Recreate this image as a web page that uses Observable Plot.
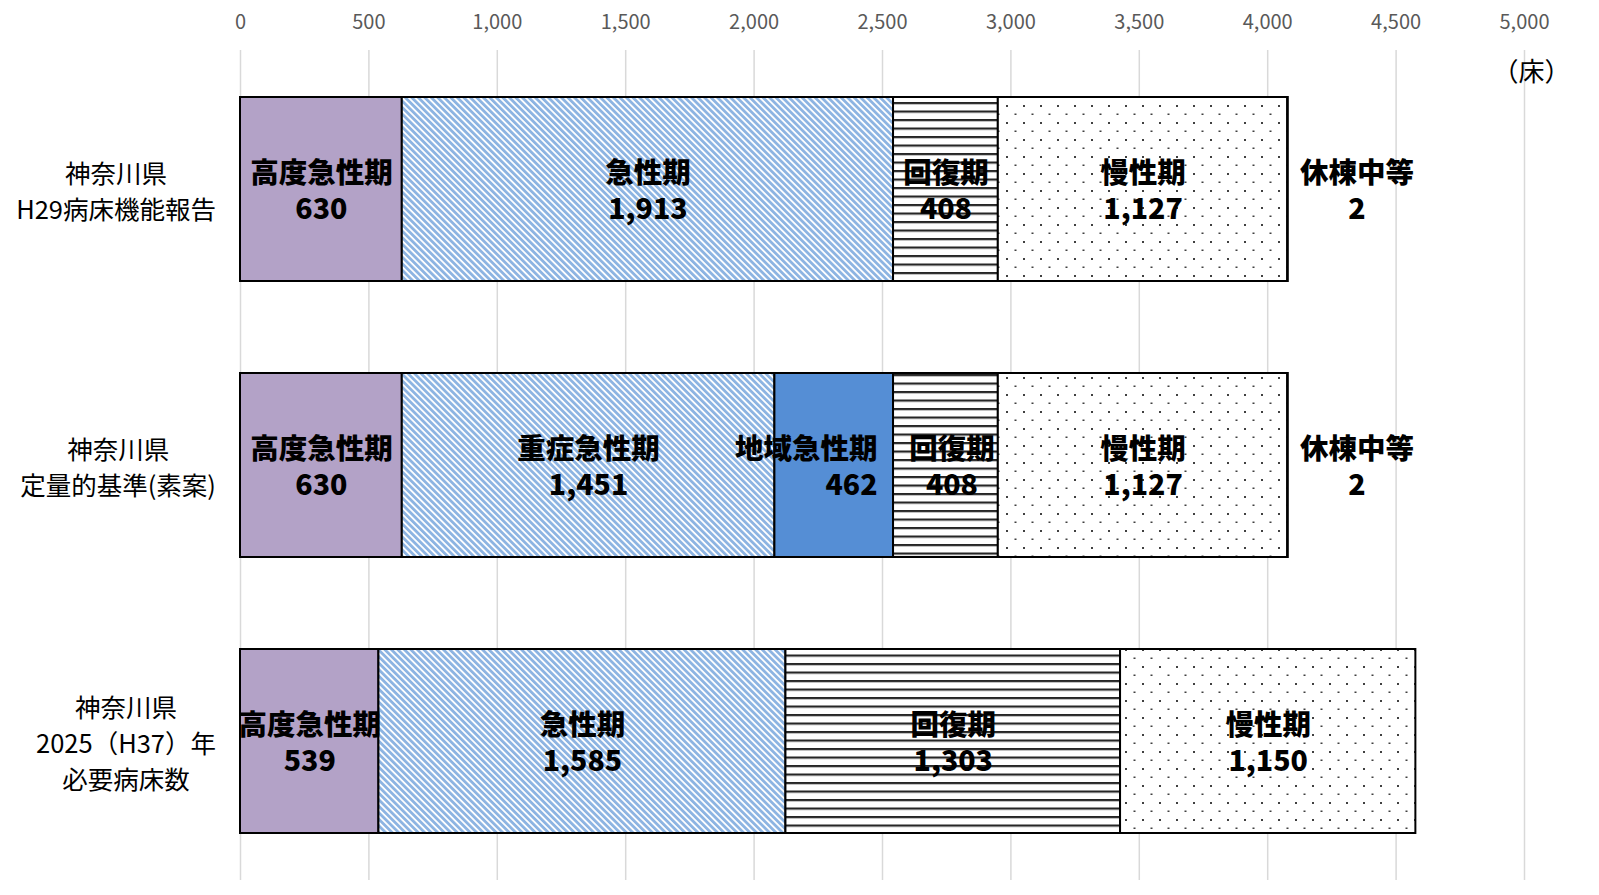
<!DOCTYPE html>
<html>
<head>
<meta charset="utf-8">
<script src="https://cdn.jsdelivr.net/npm/d3@7"></script>
<script src="https://cdn.jsdelivr.net/npm/@observablehq/plot@0.6"></script>
<style>
  html, body { margin: 0; padding: 0; background: #fff; overflow: hidden; }
  #chart { width: 1599px; height: 895px; }
  #chart svg { display: block; max-width: none !important; width: 1599px; height: 895px; }
</style>
</head>
<body>
<div id="chart"></div>
<script>
// ---- data ----
const rows = [
  "神奈川県\nH29病床機能報告",
  "神奈川県\n定量的基準(素案)",
  "神奈川県\n2025（H37）年\n必要病床数"
];
const row1Cats = ["高度急性期", "急性期", "回復期", "慢性期", "休棟中等"];
const row1Vals = [630, 1913, 408, 1127, 2];
const row2Cats = ["高度急性期", "重症急性期", "地域急性期", "回復期", "慢性期", "休棟中等"];
const row2Vals = [630, 1451, 462, 408, 1127, 2];
const row3Cats = ["高度急性期", "急性期", "回復期", "慢性期"];
const row3Vals = [539, 1585, 1303, 1150];
const xTicks = [0, 500, 1000, 1500, 2000, 2500, 3000, 3500, 4000, 4500, 5000];
const unitLabel = "（床）";

const categories = ["高度急性期", "急性期", "重症急性期", "地域急性期", "回復期", "慢性期", "休棟中等"];
const fills = ["#b3a2c7", "url(#pStripe)", "url(#pStripe)", "#558ed5", "url(#pHoriz)", "url(#pDots)", "#ffffff"];

// build table with stacked extents
const table = [];
[[row1Cats, row1Vals], [row2Cats, row2Vals], [row3Cats, row3Vals]].forEach(([cats, vals], i) => {
  let acc = 0;
  cats.forEach((c, j) => {
    table.push({row: rows[i], ri: i, cat: c, value: vals[j], start: acc, end: acc + vals[j]});
    acc += vals[j];
  });
});
const fmt = d3.format(",");
const labelText = d => d.cat + "\n" + fmt(d.value);

const normal = table.filter(d => d.cat !== "地域急性期" && d.cat !== "休棟中等" && !(d.cat === "回復期" && d.ri === 1));
const kaifuku2 = table.filter(d => d.cat === "回復期" && d.ri === 1);
const chiiki = table.filter(d => d.cat === "地域急性期");
const kyuto = table.filter(d => d.cat === "休棟中等");

const labelStyle = {y: "row", text: labelText, fontSize: 28.5, fontWeight: 900, lineHeight: 1.27, fill: "#000"};

const svg = Plot.plot({
  width: 1599,
  height: 895,
  marginLeft: 240,
  marginRight: 75,
  marginTop: 50,
  marginBottom: 15,
  style: {fontFamily: "'Noto Sans CJK JP', 'Noto Sans', sans-serif", background: "#fff"},
  x: {domain: [0, 5000]},
  y: {domain: rows, paddingInner: 0.333, paddingOuter: 0.166},
  color: {domain: categories, range: fills},
  marks: [
    Plot.gridX(xTicks, {stroke: "#d9d9d9", strokeOpacity: 1, strokeWidth: 1.5}),
    Plot.axisX({anchor: "top", ticks: xTicks, tickSize: 0, tickPadding: 22, fontSize: 20, color: "#595959", label: null}),
    Plot.axisY({tickSize: 0, tickPadding: 24, fontSize: 25.5, label: null, textAnchor: "middle", lineHeight: 1.4, color: "#000"}),
    Plot.barX(table, {x1: "start", x2: "end", y: "row", fill: "cat", stroke: "#000", strokeWidth: 2}),
    Plot.text(normal, {...labelStyle, x: d => (d.start + d.end) / 2}),
    Plot.text(kaifuku2, {...labelStyle, x: d => (d.start + d.end) / 2, dx: 6}),
    Plot.text(chiiki, {...labelStyle, x: "end", textAnchor: "end", dx: -16}),
    Plot.text(kyuto, {...labelStyle, x: d => (d.start + d.end) / 2, dx: 69}),
    Plot.text([unitLabel], {frameAnchor: "top-right", dx: 46, dy: 12, textAnchor: "end", fontSize: 26, fill: "#000"})
  ]
});
svg.style.maxWidth = "none";

// pattern definitions
const defs = d3.create("svg:defs");
const s = defs.append("pattern").attr("id", "pStripe").attr("patternUnits", "userSpaceOnUse")
  .attr("width", 4.6).attr("height", 4.6).attr("patternTransform", "rotate(-45)");
s.append("rect").attr("width", 4.6).attr("height", 4.6).attr("fill", "#fff");
s.append("rect").attr("width", 2.8).attr("height", 4.6).attr("fill", "#8db4e2");
const h = defs.append("pattern").attr("id", "pHoriz").attr("patternUnits", "userSpaceOnUse")
  .attr("width", 8).attr("height", 8.5);
h.append("rect").attr("width", 8).attr("height", 8.5).attr("fill", "#fff");
h.append("rect").attr("y", 0).attr("width", 8).attr("height", 2.2).attr("fill", "#262626");
const p = defs.append("pattern").attr("id", "pDots").attr("patternUnits", "userSpaceOnUse")
  .attr("width", 17).attr("height", 17);
p.append("rect").attr("width", 17).attr("height", 17).attr("fill", "#fff");
p.append("rect").attr("x", 3).attr("y", 3).attr("width", 2).attr("height", 2).attr("fill", "#404040");
p.append("rect").attr("x", 11.5).attr("y", 11.5).attr("width", 2).attr("height", 1.5).attr("fill", "#404040");
svg.insertBefore(defs.node(), svg.firstChild);

document.getElementById("chart").appendChild(svg);

// right-align the centered multi-line category labels as blocks
const svgRect = svg.getBoundingClientRect();
const rightEdge = 216;
svg.querySelectorAll('g[aria-label="y-axis tick label"] text').forEach(t => {
  const r = t.getBoundingClientRect();
  const shift = (svgRect.left + rightEdge) - r.right;
  const tr = t.getAttribute("transform") || "";
  t.setAttribute("transform", tr + ` translate(${shift},0)`);
});
</script>
</body>
</html>
